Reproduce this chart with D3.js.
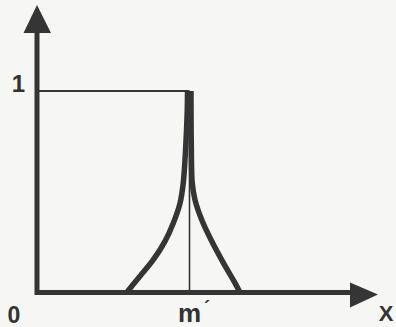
<!DOCTYPE html>
<html>
<head>
<meta charset="utf-8">
<script src="https://cdn.jsdelivr.net/npm/d3@7"></script>
<style>
  body { margin: 0; background: #f6f6f4; }
  text { font-family: "Liberation Sans", Arial, sans-serif; font-weight: bold; fill: #333; }
</style>
</head>
<body>
<div id="plot"></div>
<script>
var width = 396, height = 327

// membership curve, left branch (base -> peak) and right branch (peak -> base)
var leftX  = [0.588, 0.675, 0.763, 0.839, 0.894, 0.938, 0.959, 0.975, 0.985, 0.987]
var leftMu = [0, 0.081, 0.163, 0.254, 0.345, 0.444, 0.543, 0.72, 0.90, 1]
var rightX  = [1.010, 1.010, 1.012, 1.018, 1.036, 1.080, 1.146, 1.222, 1.298, 1.331]
var rightMu = [1, 0.90, 0.72, 0.543, 0.46, 0.361, 0.254, 0.147, 0.048, 0]

var mValue = 1
var yTickLabels = ["0", "1"]
var xLabel = "X"
var mLabel = "m"

var xScale = d3.scaleLinear()
  .domain([0, 2])
  .range([37, 342])

var yScale = d3.scaleLinear()
  .domain([0, 1])
  .range([292.5, 91])

var ink = "#353535"

var svg = d3.select("#plot")
  .append("svg")
    .attr("width", width)
    .attr("height", height)

// thin guide lines: level 1 and the vertical at m
svg.append("line")
  .attr("x1", xScale(0)).attr("x2", xScale(mValue))
  .attr("y1", yScale(1)).attr("y2", yScale(1))
  .attr("stroke", ink).attr("stroke-width", 1.8)

svg.append("line")
  .attr("x1", xScale(mValue)).attr("x2", xScale(mValue))
  .attr("y1", yScale(0)).attr("y2", yScale(1))
  .attr("stroke", ink).attr("stroke-width", 1.6)

// axes
var xEnd = 350, yEnd = 33
svg.append("path")
  .attr("d", "M" + xScale(0) + "," + yEnd + "V" + yScale(0) + "H" + xEnd)
  .attr("fill", "none")
  .attr("stroke", ink)
  .attr("stroke-width", 5)
  .attr("stroke-linejoin", "miter")

// arrow heads
svg.append("path")
  .attr("d", "M" + xScale(0) + ",5L" + (xScale(0) - 13.5) + "," + yEnd + "L" + (xScale(0) + 14) + "," + yEnd + "Z")
  .attr("fill", ink)

svg.append("path")
  .attr("d", "M378," + (yScale(0) + 2) + "L" + xEnd + "," + (yScale(0) - 10) + "L" + xEnd + "," + (yScale(0) + 15) + "Z")
  .attr("fill", ink)

// the membership curve
var line = d3.line()
  .x(d => xScale(d[0]))
  .y(d => yScale(d[1]))
  .curve(d3.curveCatmullRom.alpha(0.5))

var branches = [
  leftX.map((x, i) => [x, leftMu[i]]),
  rightX.map((x, i) => [x, rightMu[i]])
]

svg.selectAll(".branch")
  .data(branches)
  .enter()
  .append("path")
  .attr("class", "branch")
  .attr("d", line)
  .attr("fill", "none")
  .attr("stroke", ink)
  .attr("stroke-width", 5.5)
  .attr("stroke-linecap", "butt")

// labels
svg.append("text")
  .attr("x", 25).attr("y", 92)
  .attr("text-anchor", "end")
  .attr("font-size", 24)
  .text(yTickLabels[1])

svg.append("text")
  .attr("x", 14).attr("y", 323)
  .attr("text-anchor", "middle")
  .attr("font-size", 23)
  .text(yTickLabels[0])

svg.append("text")
  .attr("x", xScale(mValue)).attr("y", 322)
  .attr("text-anchor", "middle")
  .attr("font-size", 26)
  .text(mLabel)

svg.append("text")
  .attr("x", 207).attr("y", 314)
  .attr("text-anchor", "middle")
  .attr("font-size", 18)
  .text("´")

svg.append("text")
  .attr("x", 386).attr("y", 321)
  .attr("text-anchor", "middle")
  .attr("font-size", 22)
  .text(xLabel)
</script>
</body>
</html>
